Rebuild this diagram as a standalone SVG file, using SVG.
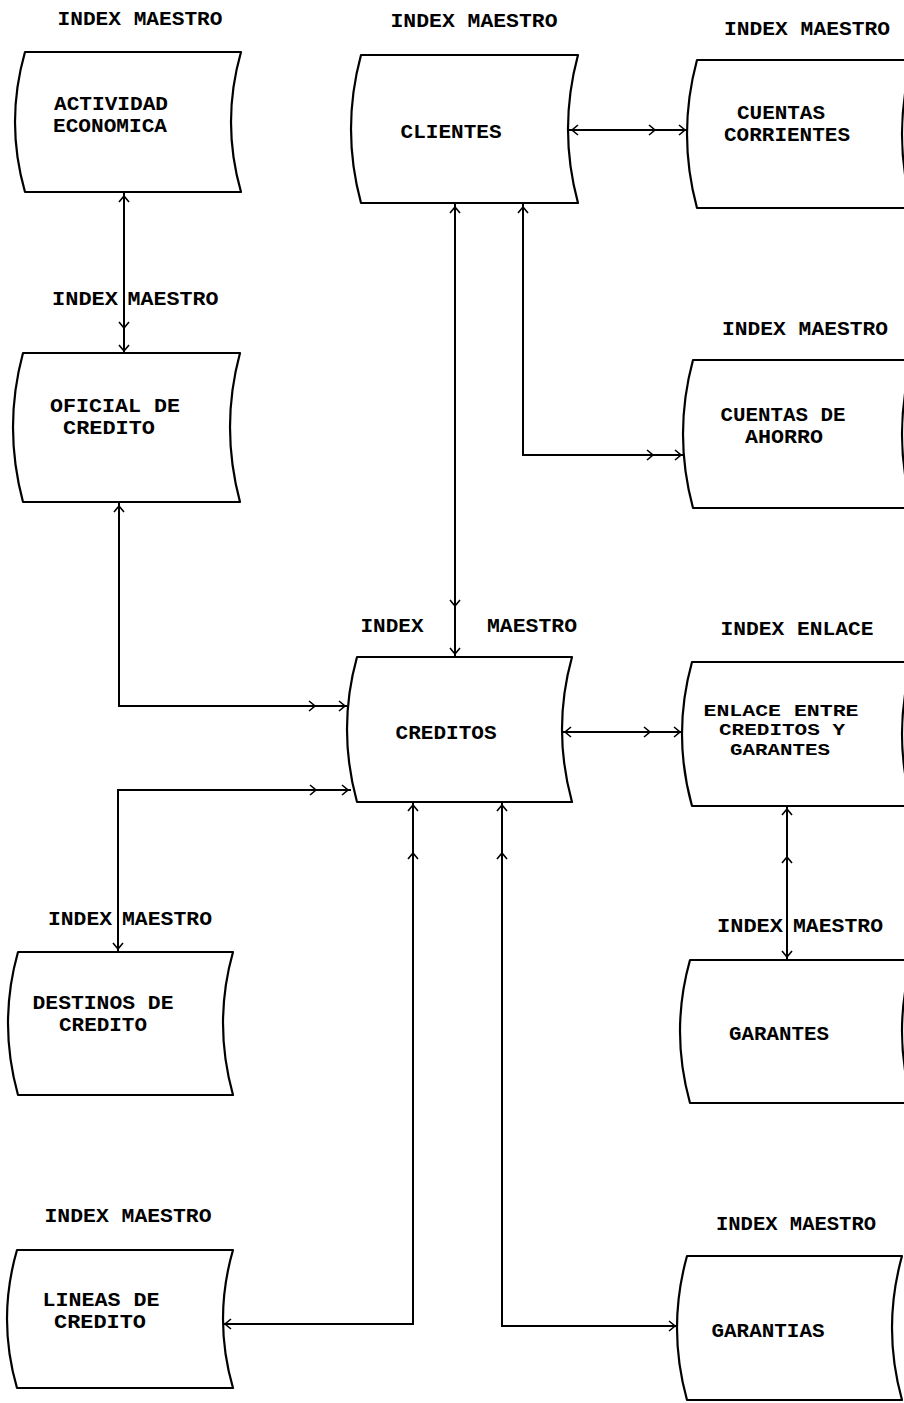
<svg xmlns="http://www.w3.org/2000/svg" xmlns:xlink="http://www.w3.org/1999/xlink" width="904" height="1403" viewBox="0 0 904 1403">
<style>
.box{fill:#fff;stroke:#000;stroke-width:2.2;stroke-linejoin:round}
.ln{fill:none;stroke:#000;stroke-width:2}
.t{font-family:"Liberation Mono","DejaVu Sans Mono",monospace;font-weight:bold;font-size:20px;fill:#000;text-anchor:middle}
.s{font-size:17px}
</style>
<defs>
<path id="ch" d="M-6,-5 L0,0 L-6,5" fill="none" stroke="#000" stroke-width="1.6"/>
</defs>
<rect width="904" height="1403" fill="#fff"/>

<g id="connectors">
<path class="ln" d="M124,193 V353"/>
<use xlink:href="#ch" transform="translate(124,196) rotate(-90)"/>
<use xlink:href="#ch" transform="translate(124,328) rotate(90)"/>
<use xlink:href="#ch" transform="translate(124,351) rotate(90)"/>

<path class="ln" d="M455,204 V657"/>
<use xlink:href="#ch" transform="translate(455,207) rotate(-90)"/>
<use xlink:href="#ch" transform="translate(455,606) rotate(90)"/>
<use xlink:href="#ch" transform="translate(455,654) rotate(90)"/>

<path class="ln" d="M569,130 H687"/>
<use xlink:href="#ch" transform="translate(572,130) rotate(180)"/>
<use xlink:href="#ch" transform="translate(655,130)"/>
<use xlink:href="#ch" transform="translate(685,130)"/>

<path class="ln" d="M523,204 V455 H683"/>
<use xlink:href="#ch" transform="translate(523,207) rotate(-90)"/>
<use xlink:href="#ch" transform="translate(653,455)"/>
<use xlink:href="#ch" transform="translate(681,455)"/>

<path class="ln" d="M562,732 H682"/>
<use xlink:href="#ch" transform="translate(565,732) rotate(180)"/>
<use xlink:href="#ch" transform="translate(650,732)"/>
<use xlink:href="#ch" transform="translate(680,732)"/>

<path class="ln" d="M119,503 V706 H347"/>
<use xlink:href="#ch" transform="translate(119,506) rotate(-90)"/>
<use xlink:href="#ch" transform="translate(315,706)"/>
<use xlink:href="#ch" transform="translate(345,706)"/>

<path class="ln" d="M351,790 H118 V952"/>
<use xlink:href="#ch" transform="translate(316,790)"/>
<use xlink:href="#ch" transform="translate(348,790)"/>
<use xlink:href="#ch" transform="translate(118,949) rotate(90)"/>

<path class="ln" d="M413,802 V1324 H223"/>
<use xlink:href="#ch" transform="translate(413,805) rotate(-90)"/>
<use xlink:href="#ch" transform="translate(413,853) rotate(-90)"/>
<use xlink:href="#ch" transform="translate(225,1324) rotate(180)"/>

<path class="ln" d="M502,802 V1326 H677"/>
<use xlink:href="#ch" transform="translate(502,805) rotate(-90)"/>
<use xlink:href="#ch" transform="translate(502,853) rotate(-90)"/>
<use xlink:href="#ch" transform="translate(675,1326)"/>

<path class="ln" d="M787,806 V960"/>
<use xlink:href="#ch" transform="translate(787,809) rotate(-90)"/>
<use xlink:href="#ch" transform="translate(787,857) rotate(-90)"/>
<use xlink:href="#ch" transform="translate(787,957) rotate(90)"/>
</g>

<g id="actividad">
<text class="t" x="140" y="25" textLength="165" lengthAdjust="spacingAndGlyphs">INDEX MAESTRO</text>
<path class="box" d="M25,52 L241,52 Q221,122 241,192 L25,192 Q5,122 25,52 Z"/>
<text class="t" x="111" y="110" textLength="114" lengthAdjust="spacingAndGlyphs">ACTIVIDAD</text>
<text class="t" x="110" y="132" textLength="114" lengthAdjust="spacingAndGlyphs">ECONOMICA</text>
</g>

<g id="clientes">
<text class="t" x="474" y="27" textLength="167" lengthAdjust="spacingAndGlyphs">INDEX MAESTRO</text>
<path class="box" d="M361,55 L578,55 Q558,129 578,203 L361,203 Q341,129 361,55 Z"/>
<text class="t" x="451" y="138" textLength="101" lengthAdjust="spacingAndGlyphs">CLIENTES</text>
</g>

<g id="cuentas-corrientes">
<text class="t" x="807" y="35" textLength="166" lengthAdjust="spacingAndGlyphs">INDEX MAESTRO</text>
<path class="box" d="M697,60 L912,60 Q892,134 912,208 L697,208 Q677,134 697,60 Z"/>
<text class="t" x="781" y="119" textLength="88" lengthAdjust="spacingAndGlyphs">CUENTAS</text>
<text class="t" x="787" y="141" textLength="126" lengthAdjust="spacingAndGlyphs">CORRIENTES</text>
</g>

<g id="oficial">
<text class="t" x="85" y="305" textLength="66" lengthAdjust="spacingAndGlyphs">INDEX</text>
<text class="t" x="173" y="305" textLength="91" lengthAdjust="spacingAndGlyphs">MAESTRO</text>
<path class="box" d="M23,353 L240,353 Q220,427 240,502 L23,502 Q3,427 23,353 Z"/>
<text class="t" x="115" y="412" textLength="130" lengthAdjust="spacingAndGlyphs">OFICIAL DE</text>
<text class="t" x="109" y="434" textLength="92" lengthAdjust="spacingAndGlyphs">CREDITO</text>
</g>

<g id="cuentas-ahorro">
<text class="t" x="805" y="335" textLength="166" lengthAdjust="spacingAndGlyphs">INDEX MAESTRO</text>
<path class="box" d="M693,360 L912,360 Q892,434 912,508 L693,508 Q673,434 693,360 Z"/>
<text class="t" x="783" y="421" textLength="125" lengthAdjust="spacingAndGlyphs">CUENTAS DE</text>
<text class="t" x="784" y="443" textLength="78" lengthAdjust="spacingAndGlyphs">AHORRO</text>
</g>

<g id="creditos">
<text class="t" x="392" y="632" textLength="63" lengthAdjust="spacingAndGlyphs">INDEX</text>
<text class="t" x="532" y="632" textLength="90" lengthAdjust="spacingAndGlyphs">MAESTRO</text>
<path class="box" d="M357,657 L572,657 Q552,729 572,802 L357,802 Q337,729 357,657 Z"/>
<text class="t" x="446" y="739" textLength="101" lengthAdjust="spacingAndGlyphs">CREDITOS</text>
</g>

<g id="enlace">
<text class="t" x="797" y="635" textLength="153" lengthAdjust="spacingAndGlyphs">INDEX ENLACE</text>
<path class="box" d="M692,662 L912,662 Q892,734 912,806 L692,806 Q672,734 692,662 Z"/>
<text class="t s" x="781" y="716" textLength="155" lengthAdjust="spacingAndGlyphs">ENLACE ENTRE</text>
<text class="t s" x="782" y="735" textLength="126" lengthAdjust="spacingAndGlyphs">CREDITOS Y</text>
<text class="t s" x="780" y="755" textLength="100" lengthAdjust="spacingAndGlyphs">GARANTES</text>
</g>

<g id="destinos">
<text class="t" x="80" y="925" textLength="64" lengthAdjust="spacingAndGlyphs">INDEX</text>
<text class="t" x="167" y="925" textLength="90" lengthAdjust="spacingAndGlyphs">MAESTRO</text>
<path class="box" d="M18,952 L233,952 Q213,1023 233,1095 L18,1095 Q-2,1023 18,952 Z"/>
<text class="t" x="103" y="1009" textLength="141" lengthAdjust="spacingAndGlyphs">DESTINOS DE</text>
<text class="t" x="103" y="1031" textLength="88" lengthAdjust="spacingAndGlyphs">CREDITO</text>
</g>

<g id="garantes">
<text class="t" x="750" y="932" textLength="66" lengthAdjust="spacingAndGlyphs">INDEX</text>
<text class="t" x="838" y="932" textLength="90" lengthAdjust="spacingAndGlyphs">MAESTRO</text>
<path class="box" d="M690,960 L912,960 Q892,1031 912,1103 L690,1103 Q670,1031 690,960 Z"/>
<text class="t" x="779" y="1040" textLength="100" lengthAdjust="spacingAndGlyphs">GARANTES</text>
</g>

<g id="lineas">
<text class="t" x="128" y="1222" textLength="167" lengthAdjust="spacingAndGlyphs">INDEX MAESTRO</text>
<path class="box" d="M17,1250 L233,1250 Q213,1319 233,1388 L17,1388 Q-3,1319 17,1250 Z"/>
<text class="t" x="101" y="1306" textLength="117" lengthAdjust="spacingAndGlyphs">LINEAS DE</text>
<text class="t" x="100" y="1328" textLength="92" lengthAdjust="spacingAndGlyphs">CREDITO</text>
</g>

<g id="garantias">
<text class="t" x="796" y="1230" textLength="160" lengthAdjust="spacingAndGlyphs">INDEX MAESTRO</text>
<path class="box" d="M687,1256 L902,1256 Q882,1328 902,1400 L687,1400 Q667,1328 687,1256 Z"/>
<text class="t" x="768" y="1337" textLength="113" lengthAdjust="spacingAndGlyphs">GARANTIAS</text>
</g>
</svg>
